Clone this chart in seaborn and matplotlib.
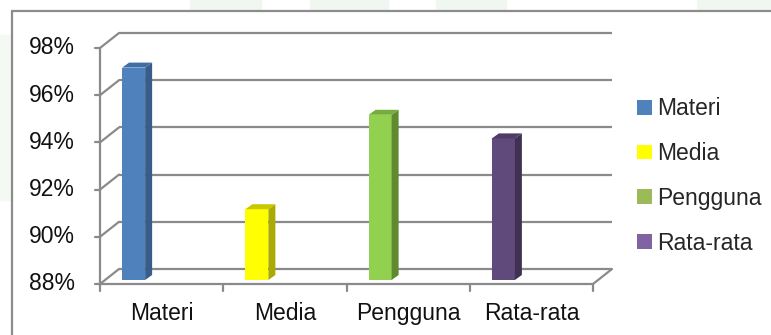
import numpy as np
import pandas as pd
import matplotlib
matplotlib.use("Agg")
import matplotlib.pyplot as plt
from matplotlib.patches import Polygon, Rectangle, Patch
from matplotlib.lines import Line2D
import seaborn as sns

categories = ["Materi", "Media", "Pengguna", "Rata-rata"]
values = [97, 91, 95, 94]
bar_colors = ["#4F81BD", "#FFFF00", "#92D050", "#604A7B"]
side_colors = ["#385D8A", "#AAAA00", "#5F8A30", "#3F3151"]
top_colors = ["#3F6DA6", "#C8C800", "#76AC3C", "#4E3C66"]
legend_colors = ["#4F81BD", "#FFFF00", "#9BBB59", "#8064A2"]
yticks = [88, 90, 92, 94, 96, 98]
ytick_labels = ["88%", "90%", "92%", "94%", "96%", "98%"]

sns.set_theme(style="white")
plt.rcParams["font.family"] = ["Liberation Sans", "DejaVu Sans"]
FS = 16.5

W, H, DPI = 771, 335, 100
fig = plt.figure(figsize=(W / DPI, H / DPI), dpi=DPI)
fig.patch.set_facecolor("white")

# faint background watermark patches + chart frame
for x0, x1 in [(190, 261), (310, 388), (436, 506), (697, 771)]:
    fig.patches.append(Rectangle((x0 / W, 1 - 10 / H), (x1 - x0) / W, 10 / H,
                                 transform=fig.transFigure, color="#F0F7F1", zorder=0))
fig.patches.append(Rectangle((0, 1 - 200 / H), 11 / W, 165 / H,
                             transform=fig.transFigure, color="#F4F9F4", zorder=0))
fig.lines.append(Line2D([12 / W, 12 / W], [0, 1 - 11 / H], transform=fig.transFigure,
                        color="#8C8C8C", lw=1.6))
fig.lines.append(Line2D([12 / W, 1], [1 - 11 / H, 1 - 11 / H], transform=fig.transFigure,
                        color="#8C8C8C", lw=1.6))

# axes region: front plane 100..593 px in x, 284..48 px in y; back plane offset
FX0, FX1, FY0, FY1 = 100, 593, 284, 48
DXP, DYP = 19, 15
ax_left, ax_right = FX0, FX1 + DXP
ax_bottom, ax_top = FY0, FY1 - DYP
ax = fig.add_axes([ax_left / W, 1 - ax_bottom / H, (ax_right - ax_left) / W,
                   (ax_bottom - ax_top) / H])
pxx = (FX1 - FX0) / 4.0          # px per category unit
pxy = (FY0 - FY1) / 10.0         # px per percent
DX = DXP / pxx
DY = DYP / pxy

grid_c = "#8A8A8A"
# back wall gridlines and left wall diagonals
for t, lab in zip(yticks, ytick_labels):
    ax.plot([-0.5 + DX, 3.5 + DX], [t + DY, t + DY], color=grid_c, lw=1.6, zorder=1,
            clip_on=False, solid_capstyle="butt")
    ax.plot([-0.5, -0.5 + DX], [t, t + DY], color=grid_c, lw=1.6, zorder=1, clip_on=False)
    ax.plot([-0.5 - 5 / pxx, -0.5], [t, t], color=grid_c, lw=1.6, zorder=1, clip_on=False)
    ax.text(-0.5 - 25 / pxx, t, lab, ha="right", va="center", fontsize=FS,
            color="#111111")
# front axis and floor
ax.plot([-0.5, -0.5], [88, 98], color=grid_c, lw=1.6, zorder=1, clip_on=False)
ax.plot([-0.5, 3.5], [88, 88], color=grid_c, lw=1.6, zorder=1, clip_on=False)
ax.plot([3.5, 3.5 + DX], [88, 88 + DY], color=grid_c, lw=1.6, zorder=1, clip_on=False)
for k in range(5):
    xk = -0.5 + k
    ax.plot([xk, xk], [88, 88 - 7 / pxy], color=grid_c, lw=1.6, zorder=1, clip_on=False)
for i, c in enumerate(categories):
    ax.text(i, 88 - 30 / pxy, c, ha="center", va="center", fontsize=FS, color="#111111")

# bars via seaborn
df = pd.DataFrame({"kategori": categories, "nilai": [v - 88 for v in values]})
sns.barplot(data=df, x="kategori", y="nilai", hue="kategori", palette=bar_colors,
            saturation=1, width=23 / pxx, bottom=88, legend=False, ax=ax, zorder=3,
            edgecolor="none")
ax.set_xlim(-0.5, 3.5 + DX)
ax.set_ylim(88, 98 + DY)
ax.axis("off")

shift = -28 / pxx
lift = 4 / pxy
sdx, sdy = 7 / pxx, 5 / pxy
for i, p in enumerate(list(ax.patches)):
    p.set_x(p.get_x() + shift)
    p.set_y(p.get_y() + lift)
    x0 = p.get_x(); x1 = x0 + p.get_width()
    y0 = p.get_y(); y1 = y0 + p.get_height()
    side = Polygon([(x1, y0), (x1 + sdx, y0 + sdy), (x1 + sdx, y1 + sdy), (x1, y1)],
                   closed=True, facecolor=side_colors[i], edgecolor="none", zorder=3)
    top = Polygon([(x0, y1), (x1, y1), (x1 + sdx, y1 + sdy), (x0 + sdx, y1 + sdy)],
                  closed=True, facecolor=top_colors[i], edgecolor="none", zorder=3)
    ax.add_patch(side)
    ax.add_patch(top)

# legend
handles = [Patch(facecolor=c, edgecolor="none") for c in legend_colors]
fig.legend(handles, categories, loc="center left",
           bbox_to_anchor=(626 / W, 1 - 176 / H), frameon=False, fontsize=FS,
           handlelength=0.62, handleheight=0.62, handletextpad=0.25,
           labelspacing=0.95, borderpad=0)

fig.savefig("out.png", dpi=DPI)
